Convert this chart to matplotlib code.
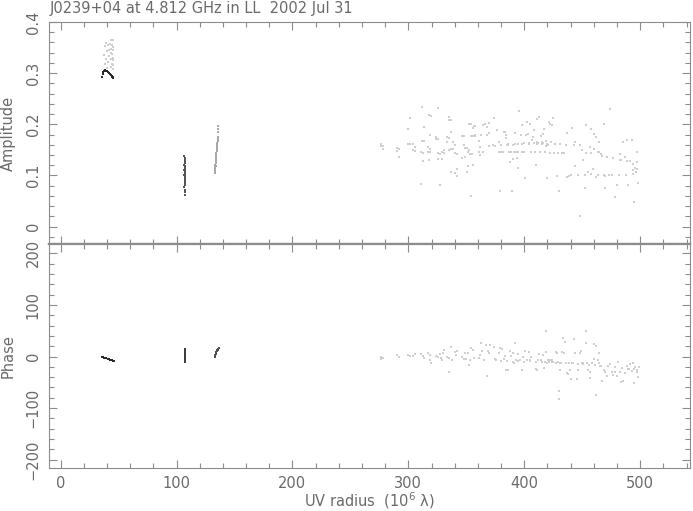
import matplotlib
matplotlib.use("Agg")
import matplotlib.pyplot as plt
from matplotlib.ticker import MultipleLocator, FuncFormatter

TITLE = "J0239+04 at 4.812 GHz in LL  2002 Jul 31"
XLABEL = "UV radius  (10$^6$ λ)"

# ---------------- Amplitude panel data ----------------
# cluster near 40 Mλ (dense arc)
uvA_amp_dense = [35.5, 36.3, 37.0, 37.8, 38.5, 39.3, 40.0, 40.8, 41.6, 42.4, 43.2, 44.0, 44.6, 45.1, 45.6]
ampA_dense = [0.293, 0.298, 0.302, 0.305, 0.306, 0.305, 0.304, 0.302, 0.300, 0.299, 0.297, 0.295, 0.293, 0.292, 0.291]
# faint points above it
uvA_amp_faint = [43.1, 45.1, 44.5, 41.1, 45.1, 38.2, 43.1, 40.2, 43.9, 41.6, 45.1, 43.1, 45.1, 41.1,
                 44.5, 38.2, 43.1, 40.2, 45.1, 39.0, 42.0, 44.0, 37.5, 41.0, 45.5, 42.5, 39.5, 44.8]
ampA_faint = [0.364, 0.364, 0.356, 0.355, 0.351, 0.353, 0.348, 0.343, 0.340, 0.333, 0.330, 0.327, 0.325, 0.321,
              0.317, 0.317, 0.312, 0.310, 0.308, 0.359, 0.346, 0.337, 0.336, 0.322, 0.345, 0.357, 0.328, 0.315]
# cluster near 107 Mλ
uvB_amp = [106.8, 107.0, 107.2, 106.9, 107.1, 106.8, 107.0, 107.2, 106.9, 107.1, 107.0, 106.8, 107.2, 106.9,
           107.1, 107.0, 106.8, 107.2, 106.9, 107.1, 107.0, 106.9, 107.1, 107.0, 106.8, 107.2, 107.0, 106.9]
ampB = [0.138, 0.134, 0.130, 0.127, 0.124, 0.121, 0.118, 0.116, 0.114, 0.113, 0.112, 0.110, 0.108, 0.106,
        0.104, 0.102, 0.100, 0.098, 0.096, 0.094, 0.092, 0.089, 0.086, 0.082, 0.077, 0.072, 0.067, 0.061]
# cluster near 134 Mλ
uvC_amp = [133.0, 133.2, 133.3, 133.5, 133.6, 133.8, 133.9, 134.1, 134.2, 134.4, 134.5, 134.7, 134.8,
           135.0, 135.1, 135.3, 135.4, 135.6, 135.7, 135.9, 136.0, 135.2, 134.6, 133.7, 135.8]
ampC = [0.104, 0.108, 0.112, 0.116, 0.120, 0.124, 0.128, 0.132, 0.136, 0.140, 0.144, 0.148, 0.152,
        0.156, 0.160, 0.164, 0.168, 0.172, 0.176, 0.184, 0.196, 0.163, 0.150, 0.118, 0.190]
# long-baseline scatter
uv_amp_far = [276.1, 276.1, 277.8, 277.8, 289.9, 291.6, 289.9, 291.6, 299.4, 301.1, 299.4, 301.1, 303.7, 305.4,
              303.7, 305.4, 310.6, 312.3, 311.5, 313.2, 311.5, 313.2, 312.3, 310.6, 316.6, 318.4, 316.6, 318.4,
              317.5, 319.2, 318.4, 317.5, 325.3, 323.5, 325.3, 323.5, 325.3, 327.0, 328.7, 330.4, 330.4, 325.3,
              328.7, 327.0, 334.7, 336.5, 334.7, 336.5, 333.3, 334.7, 333.3, 338.2, 339.9, 338.2, 336.5, 334.7,
              339.9, 341.6, 336.5, 339.9, 341.6, 341.6, 346.0, 347.7, 347.7, 348.5, 350.3, 352.0, 351.1, 352.8,
              355.1, 346.0, 348.5, 351.1, 355.4, 350.3, 352.0, 353.7, 355.4, 357.2, 353.7, 355.4, 357.2, 360.6,
              361.5, 360.6, 361.5, 353.7,
              356.3, 357.2, 362.3, 364.1, 365.8, 364.1, 367.5, 367.5, 369.2, 369.2, 372.7, 373.8, 377.9, 376.7,
              378.1, 378.7, 379.6, 381.3, 382.2, 383.0, 383.9, 383.9, 385.6, 386.5, 387.3, 388.2, 389.1, 389.9,
              390.8, 391.7, 392.5, 393.4, 394.2, 395.1, 394.2, 396.8, 397.7, 397.7, 399.4, 400.3, 401.4, 402.3,
              403.1, 404.0, 404.9, 405.7, 406.6, 407.5, 408.3, 409.2, 410.0, 410.9, 410.9, 412.6, 413.8, 414.4,
              415.2, 416.1, 416.9, 417.8, 418.7, 419.5, 420.4, 421.2, 422.1, 423.0, 423.8, 424.7, 425.6, 426.7,
              428.1, 429.0, 429.9, 430.7, 432.5, 434.2, 435.9, 436.8, 437.3, 438.5, 440.2, 441.1, 442.5, 443.4,
              444.2, 446.0, 447.7, 448.5, 449.4, 451.1, 452.0, 452.9, 453.7, 455.4, 456.3, 457.2, 458.0, 458.9,
              459.8, 460.6, 461.5, 462.3, 463.2, 464.1, 464.9, 465.8, 466.7, 468.4, 469.2, 470.1, 472.7, 474.4,
              476.1, 478.7, 479.9, 482.2, 483.9, 485.6, 487.3, 488.5, 489.9, 491.4, 492.8, 494.2, 494.8, 495.7,
              496.5, 497.1, 497.7, 498.3,
              440.0, 446.0, 452.0, 458.0, 464.0, 470.0, 476.0, 482.0, 488.0, 494.0, 471.3, 477.0, 482.7, 488.5,
              494.2, 497.1, 400.0, 404.0, 408.0, 412.0, 416.0, 420.0, 395.0, 390.0, 385.0, 380.0, 375.0, 370.0,
              414.0, 418.0, 422.0, 411.0, 415.5, 419.0, 386.0, 392.0, 398.0, 404.5]
amp_far = [0.162, 0.158, 0.158, 0.152, 0.154, 0.152, 0.148, 0.137, 0.191, 0.212, 0.162, 0.162, 0.162, 0.156,
           0.150, 0.148, 0.146, 0.144, 0.234, 0.195, 0.168, 0.168, 0.129, 0.084, 0.156, 0.152, 0.146, 0.146,
           0.218, 0.216, 0.179, 0.131, 0.232, 0.175, 0.172, 0.172, 0.144, 0.142, 0.146, 0.150, 0.144, 0.133,
           0.133, 0.082, 0.214, 0.208, 0.208, 0.185, 0.175, 0.173, 0.166, 0.166, 0.160, 0.152, 0.152, 0.150,
           0.144, 0.142, 0.107, 0.104, 0.113, 0.098, 0.177, 0.177, 0.160, 0.154, 0.154, 0.150, 0.146, 0.142,
           0.142, 0.135, 0.137, 0.119, 0.121, 0.107, 0.201, 0.201, 0.193, 0.197, 0.177, 0.177, 0.177, 0.168,
           0.156, 0.146, 0.140, 0.059,
           0.197, 0.179, 0.179, 0.199, 0.201, 0.145, 0.194, 0.179, 0.202, 0.183, 0.159, 0.212, 0.166, 0.188,
           0.145, 0.069, 0.145, 0.145, 0.185, 0.184, 0.179, 0.173, 0.161, 0.145, 0.126, 0.145, 0.069, 0.133,
           0.145, 0.183, 0.145, 0.134, 0.145, 0.226, 0.115, 0.179, 0.145, 0.199, 0.145, 0.095, 0.179, 0.204,
           0.181, 0.162, 0.201, 0.145, 0.170, 0.175, 0.189, 0.145, 0.120, 0.162, 0.210, 0.214, 0.145, 0.178,
           0.162, 0.181, 0.191, 0.145, 0.157, 0.096, 0.159, 0.204, 0.201, 0.166, 0.199, 0.212, 0.144, 0.162,
           0.098, 0.144, 0.069, 0.162, 0.144, 0.144, 0.160, 0.097, 0.183, 0.098, 0.100, 0.193, 0.159, 0.165,
           0.118, 0.100, 0.160, 0.020, 0.149, 0.130, 0.076, 0.199, 0.144, 0.107, 0.155, 0.191, 0.144, 0.113,
           0.181, 0.152, 0.097, 0.175, 0.146, 0.166, 0.146, 0.142, 0.139, 0.201, 0.100, 0.076, 0.100, 0.229,
           0.100, 0.057, 0.081, 0.141, 0.131, 0.166, 0.136, 0.170, 0.082, 0.128, 0.169, 0.110, 0.049, 0.115,
           0.107, 0.126, 0.146, 0.085,
           0.100, 0.101, 0.100, 0.102, 0.100, 0.099, 0.100, 0.101, 0.100, 0.102, 0.136, 0.134, 0.131, 0.128,
           0.122, 0.112, 0.163, 0.162, 0.163, 0.164, 0.163, 0.162, 0.161, 0.160, 0.160, 0.159, 0.158, 0.158,
           0.145, 0.146, 0.144, 0.166, 0.165, 0.167, 0.160, 0.161, 0.162, 0.163]

# ---------------- Phase panel data ----------------
uvA_ph = [35.5, 36.5, 37.5, 38.5, 39.5, 40.5, 41.5, 42.5, 43.5, 44.5, 45.0, 45.5, 46.0]
phA = [-1.0, -1.8, -2.5, -3.0, -3.8, -4.5, -5.2, -6.0, -6.8, -7.6, -8.0, -8.4, -8.8]
uvB_ph = [107.0, 107.1, 106.9, 107.0, 107.1, 106.9, 107.0, 107.1, 106.9, 107.0, 107.1, 106.9, 107.0, 107.0]
phB = [14.0, 11.0, 8.0, 5.0, 3.0, 1.0, -1.0, -3.0, -5.0, -7.0, -8.5, -10.0, -11.5, 0.0]
uvC_ph = [133.2, 133.4, 133.6, 133.8, 134.0, 134.2, 134.5, 134.9, 135.3, 135.8, 136.2, 136.6]
phC = [0.0, 1.5, 3.0, 4.5, 6.0, 7.5, 9.0, 10.5, 12.0, 13.5, 15.0, 16.0]
uv_ph_far = [276.1, 277.9, 276.1, 289.9, 291.7, 299.4, 301.1, 303.7, 305.4, 310.6, 312.3, 313.2, 316.7, 318.4,
             319.2, 318.4, 323.6, 325.3, 327.0, 327.9, 329.6, 330.4, 328.7, 333.0, 334.8, 334.8, 336.5, 337.3,
             339.9, 340.8, 341.6, 346.0, 347.7, 348.5, 349.4, 351.1, 352.0, 352.9, 353.7, 355.4, 356.3, 360.6,
             361.5, 362.3, 363.2, 364.9, 366.7, 367.5, 368.4, 369.2, 370.1, 373.5, 374.4, 375.3, 378.1, 378.7,
             380.4, 382.2, 383.0, 383.9, 385.6, 387.3, 388.2, 389.9, 390.8, 391.7, 392.5, 394.2, 396.0, 397.7,
             398.6, 400.3, 402.0, 403.7, 404.6, 405.7, 409.8, 410.6, 411.8, 412.6, 414.4, 416.1, 416.9, 418.4,
             419.0, 419.5, 420.7, 422.4, 423.8, 424.7, 427.0, 427.9, 429.0, 429.9, 430.4, 430.7, 431.6, 432.5,
             433.3, 434.2, 435.0, 435.9, 436.8, 437.6, 438.5, 439.4, 440.2, 442.0, 442.8, 443.7, 445.4, 446.3,
             447.7, 448.8, 449.7, 451.1, 452.9, 452.9, 454.0, 455.4, 456.3, 456.9, 458.3, 459.8, 460.6, 461.5,
             462.3, 463.2, 464.1, 464.9, 465.5, 467.5, 468.4, 470.1, 471.3, 474.1, 475.6, 477.0, 478.7, 479.9,
             481.3, 482.7, 483.9, 485.6, 487.3, 488.5, 489.9, 491.4, 492.8, 494.2, 494.8, 495.7, 497.1, 498.0,
             498.6,
             380.0, 385.0, 390.0, 395.0, 400.0, 405.0, 410.0, 415.0, 418.0, 421.0, 424.0, 427.0, 431.0, 436.0,
             441.0, 446.0, 451.0, 456.0, 461.0, 466.0, 472.0, 478.0, 484.0, 490.0, 495.0, 497.5]
ph_far = [0.0, -2.0, -3.9, 3.8, 0.0, 3.8, 1.9, 1.9, 5.7, 5.7, 1.9, -2.0, 7.6, 3.8,
          -13.5, -5.8, 1.9, 0.0, 5.7, -2.0, 7.6, 13.4, -5.8, 0.0, -2.0, -30.8, 19.2, -5.8,
          9.6, 3.8, 11.5, 0.0, -3.9, 7.6, -3.9, 7.6, -17.4, -7.7, 17.2, 13.4, -2.0, -2.0,
          3.8, 26.9, 11.5, -5.8, 23.0, -38.5, 11.5, 7.6, 23.0, 19.2, -3.9, -5.8, 7.6, 17.2,
          15.3, -3.9, 1.9, -27.0, -27.0, 11.5, 1.9, 7.6, -11.6, 26.9, -5.8, 5.7, -7.7, -27.0,
          0.0, 11.5, -5.8, 9.6, -7.7, 0.0, -23.8, -27.0, -5.8, 5.7, -7.7, 3.8, -23.1, 9.6,
          50.0, -13.5, -7.7, -7.7, -7.7, -9.7, 9.6, 7.6, -9.7, -67.4, -82.8, -27.0, -11.6, 9.6,
          36.5, 7.6, 28.1, -11.6, -32.8, -34.7, -11.6, -27.0, -44.3, -11.6, 34.6, 7.6, -44.3, -27.0,
          7.6, 11.5, -11.6, -11.6, 50.0, 26.9, -11.6, -27.0, -42.4, -30.8, -11.6, 25.0, -3.9, -75.1,
          20.5, -7.7, 7.6, -11.6, -19.3, -48.1, -27.0, -30.8, -37.2, -14.2, -30.8, -35.3, -30.8, -37.2,
          -9.7, -30.8, -50.1, -46.8, -32.1, -18.0, -24.4, -14.8, -27.6, -11.6, -51.3, -21.2, -30.8, -40.4,
          -21.2,
          -8.0, -9.0, -10.0, -9.0, -10.0, -9.5, -10.5, -11.0, -10.0, -11.0, -10.5, -12.0, -12.0, -13.0,
          -13.5, -14.0, -15.0, -15.5, -16.0, -18.0, -19.0, -20.0, -22.0, -24.0, -25.0, -26.0]

# ---------------- figure ----------------
plt.rcParams['font.family'] = ['DejaVu Sans']
AX_COL = '#8c8c8c'
TXT_COL = '#6a6a6a'
FAINT = '#cfcfcf'
DARK = '#2a2a2a'
FS = 10.5

fig = plt.figure(figsize=(6.93, 5.11), dpi=100)
L, W = 49 / 693, (690 - 49) / 693
ax1 = fig.add_axes([L, (511 - 244) / 511, W, (244 - 22) / 511])
ax2 = fig.add_axes([L, (511 - 468) / 511, W, (468 - 244) / 511], sharex=ax1)

ms = 1.3
# amplitude
ax1.scatter(uvA_amp_faint, ampA_faint, s=ms, marker='s', c=FAINT, linewidths=0)
ax1.scatter(uvA_amp_dense, ampA_dense, s=2.5, marker='s', c=DARK, linewidths=0)
ax1.scatter(uvB_amp, ampB, s=2.0, marker='s', c='#555555', linewidths=0)
ax1.scatter(uvC_amp, ampC, s=1.8, marker='s', c='#a8a8a8', linewidths=0)
ax1.scatter(uv_amp_far, amp_far, s=ms, marker='s', c=FAINT, linewidths=0)
# phase
ax2.scatter(uvA_ph, phA, s=3.0, marker='s', c=DARK, linewidths=0)
ax2.scatter(uvB_ph, phB, s=3.0, marker='s', c='#404040', linewidths=0)
ax2.scatter(uvC_ph, phC, s=3.0, marker='s', c='#505050', linewidths=0)
ax2.scatter(uv_ph_far, ph_far, s=ms, marker='s', c=FAINT, linewidths=0)

ax1.set_xlim(-10, 543)
ax1.set_ylim(-0.034, 0.4)
ax2.set_ylim(-216, 218)

ax1.xaxis.set_major_locator(MultipleLocator(100))
ax1.xaxis.set_minor_locator(MultipleLocator(20))
ax1.yaxis.set_major_locator(MultipleLocator(0.1))
ax1.yaxis.set_minor_locator(MultipleLocator(0.02))
ax1.yaxis.set_major_formatter(FuncFormatter(lambda v, p: '0' if abs(v) < 1e-9 else f'{v:.1f}'))
ax2.yaxis.set_major_locator(MultipleLocator(100))
ax2.yaxis.set_minor_locator(MultipleLocator(20))

for ax in (ax1, ax2):
    for sp in ax.spines.values():
        sp.set_color(AX_COL)
        sp.set_linewidth(0.8)
    ax.tick_params(which='both', direction='in', top=True, right=True, color=AX_COL,
                   labelcolor=TXT_COL, labelsize=FS, width=0.8)
    ax.tick_params(which='major', length=6)
    ax.tick_params(which='minor', length=3.5)
    ax.tick_params(axis='y', labelrotation=90, pad=6)
    for lab in ax.get_yticklabels():
        lab.set_va('center')
ax1.spines['bottom'].set_linewidth(1.6)
ax2.spines['top'].set_linewidth(1.6)
ax1.tick_params(axis='x', labelbottom=False)
ax2.tick_params(axis='x', pad=6)

ax1.set_ylabel('Amplitude', color=TXT_COL, fontsize=FS)
ax2.set_ylabel('Phase', color=TXT_COL, fontsize=FS)
ax1.yaxis.set_label_coords(-0.052, 0.5)
ax2.yaxis.set_label_coords(-0.052, 0.5)
ax2.set_xlabel(XLABEL, color=TXT_COL, fontsize=FS)
ax2.xaxis.set_label_coords(0.5, -0.098)
fig.text(50 / 693, 1 - 8 / 511, TITLE, color=TXT_COL, fontsize=FS, ha='left', va='center')

fig.savefig('out.png', dpi=100)
